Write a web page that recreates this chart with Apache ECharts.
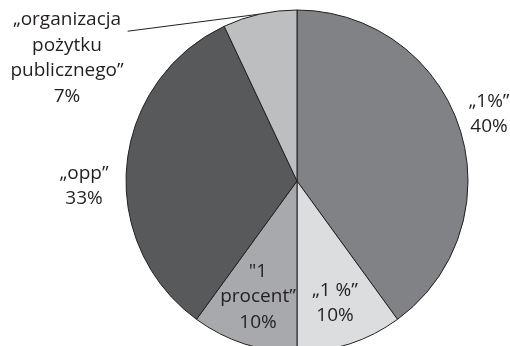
<!DOCTYPE html>
<html><head><meta charset="utf-8">
<script src="https://cdn.jsdelivr.net/npm/echarts@6/dist/echarts.min.js"></script>
<style>html,body{margin:0;padding:0;background:#fff}#c{width:510px;height:346px}</style>
</head><body><div id="c"></div>
<script>
const categories = ['„1%”', '„1 %”', '"1 procent”', '„opp”', '„organizacja pożytku publicznego”'];
const labelLines = ['„1%”', '„1 %”', '"1\nprocent”', '„opp”', '„organizacja\npożytku\npublicznego”'];
const values = [40, 10, 10, 33, 7];
const colors = ['#808285', '#dcdddf', '#a7a9ac', '#58595b', '#bcbec0'];
const labelPos = [[489, 114], [335, 303], [258, 297], [84, 186], [67, 58]];

const chart = echarts.init(document.getElementById('c'), null, {renderer: 'canvas'});
const LH = 25.5;
chart.setOption({
  animation: false,
  series: [{
    type: 'pie',
    center: [297, 181],
    radius: 171,
    startAngle: 90,
    clockwise: true,
    label: {
      show: true,
      position: 'inside',
      formatter: p => labelLines[p.dataIndex] + '\n' + p.value + '%',
      fontFamily: 'Open Sans',
      fontSize: 19,
      lineHeight: LH,
      color: '#231f20',
      align: 'center',
      overflow: 'none'
    },
    labelLine: {show: false},
    labelLayout: p => {
      const i = p.dataIndex;
      const out = {x: labelPos[i][0], y: labelPos[i][1], align: 'center', verticalAlign: 'middle'};
      if (i === 4 && p.labelLinePoints) {
        const w = p.labelRect.width;
        const nLines = labelLines[i].split('\n').length + 1;
        const top = labelPos[i][1] - nLines * LH / 2;
        out.labelLinePoints = [p.labelLinePoints[0], [labelPos[i][0] + w / 2 + 4, top + LH * 0.95]];
      }
      return out;
    },
    itemStyle: {borderColor: '#231f20', borderWidth: 1},
    emphasis: {disabled: true},
    data: categories.map((c, i) => ({
      name: c,
      value: values[i],
      itemStyle: {color: colors[i]},
      label: i === 4 ? {position: 'outside'} : {},
      labelLine: i === 4 ? {show: true, length: 10, length2: 10, lineStyle: {color: '#231f20', width: 1}} : {show: false}
    }))
  }]
});
</script></body></html>
